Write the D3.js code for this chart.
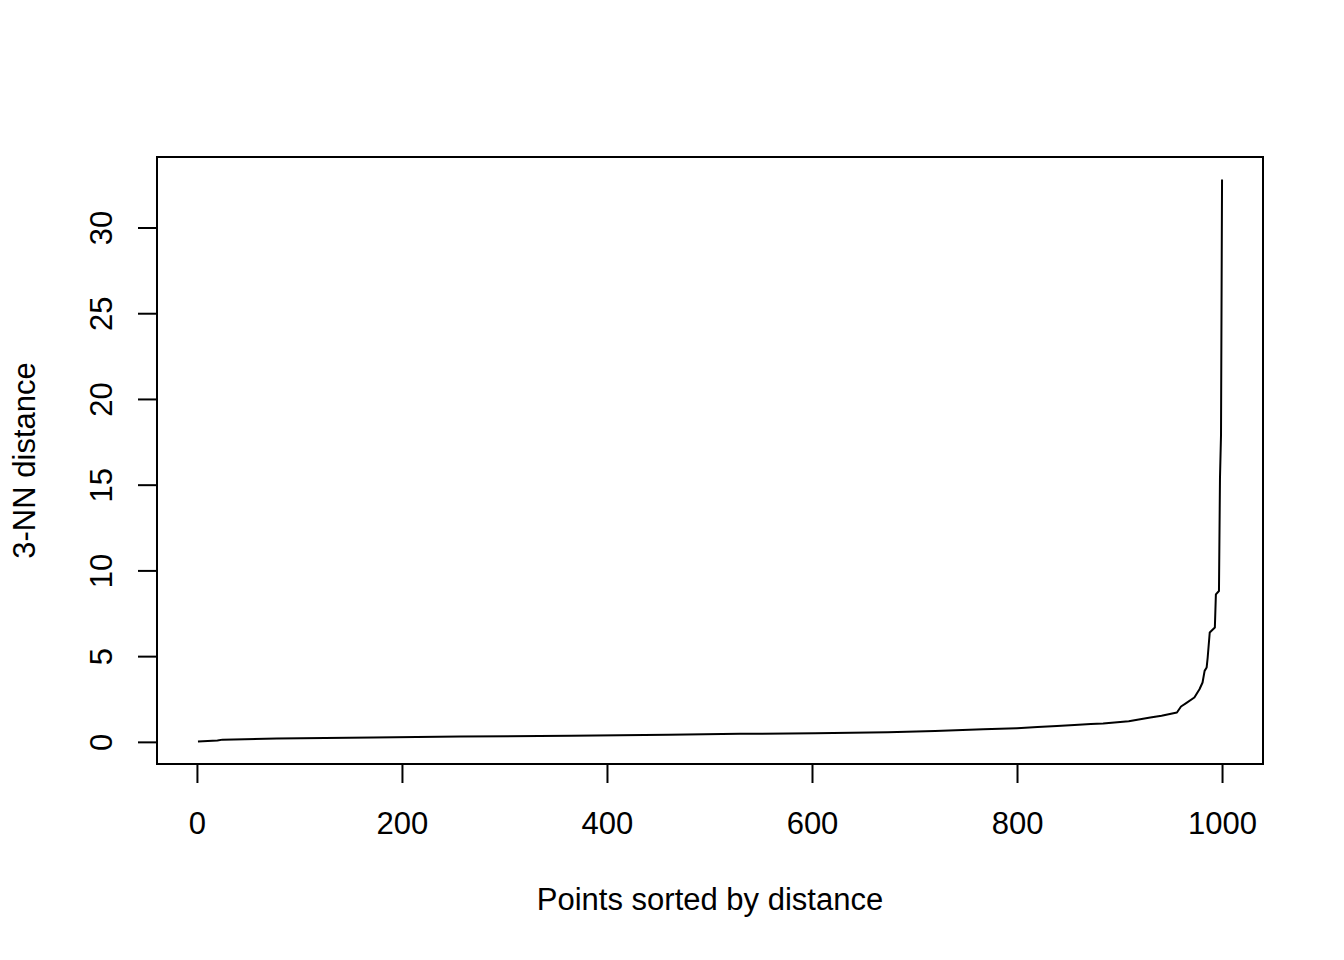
<!DOCTYPE html>
<html>
<head>
<meta charset="utf-8">
<script src="https://cdn.jsdelivr.net/npm/d3@7"></script>
<style>
  html, body { margin: 0; padding: 0; background: #fff; }
  svg text { font-family: "Liberation Sans", Arial, sans-serif; fill: #000; }
</style>
</head>
<body>
<svg id="chart" width="1344" height="960"></svg>
<script>
// Points (rank index) and their 3-NN distance
const pointIndex = [1, 20, 25, 78, 172, 257, 365, 460, 530, 603, 674, 720, 767, 800, 820, 839, 856, 872, 884, 909, 930, 941, 956, 960, 965, 973, 978, 981, 983, 985, 986, 988, 993, 994, 997, 998, 999, 1000];
const knnDist   = [0.02, 0.08, 0.13, 0.19, 0.25, 0.31, 0.36, 0.42, 0.47, 0.50, 0.56, 0.64, 0.74, 0.80, 0.86, 0.92, 0.98, 1.04, 1.07, 1.20, 1.42, 1.52, 1.71, 2.06, 2.26, 2.59, 3.07, 3.46, 4.14, 4.34, 4.92, 6.38, 6.67, 8.60, 8.80, 15.4, 17.9, 32.8];
const xTicks = [0, 200, 400, 600, 800, 1000];
const yTicks = [0, 5, 10, 15, 20, 25, 30];
const xLabel = "Points sorted by distance";
const yLabel = "3-NN distance";

const svg = d3.select("#chart");
const box = { left: 157, right: 1263, top: 157, bottom: 764 };
const fs = 31;

// R-style 4% extended ranges
const xmin = 1, xmax = 1000;
const ymin = d3.min(knnDist), ymax = d3.max(knnDist);
const xr = xmax - xmin, yr = ymax - ymin;
const x = d3.scaleLinear().domain([xmin - 0.04 * xr, xmax + 0.04 * xr]).range([box.left, box.right]);
const y = d3.scaleLinear().domain([ymin - 0.04 * yr, ymax + 0.04 * yr]).range([box.bottom, box.top]);

const data = pointIndex.map((v, i) => ({ x: v, y: knnDist[i] }));

// curve
svg.append("path")
  .datum(data)
  .attr("fill", "none")
  .attr("stroke", "#000")
  .attr("stroke-width", 2)
  .attr("stroke-linejoin", "round")
  .attr("d", d3.line().x(d => x(d.x)).y(d => y(d.y)));

// box
svg.append("rect")
  .attr("x", box.left).attr("y", box.top)
  .attr("width", box.right - box.left).attr("height", box.bottom - box.top)
  .attr("fill", "none").attr("stroke", "#000").attr("stroke-width", 2);

// x axis
const xAxis = d3.axisBottom(x).tickValues(xTicks).tickSize(19).tickSizeOuter(0).tickPadding(0).tickFormat(d3.format("d"));
const gx = svg.append("g").attr("transform", `translate(0,${box.bottom})`).call(xAxis);
gx.select(".domain")
  .attr("d", `M${x(xTicks[0])},0H${x(xTicks[xTicks.length - 1])}`)
  .attr("stroke-width", 2);
gx.selectAll(".tick line").attr("stroke-width", 2);
gx.selectAll(".tick text")
  .attr("y", 70).attr("dy", null)
  .style("font-size", fs + "px")
  .style("font-family", '"Liberation Sans", Arial, sans-serif');

// y axis
const yAxis = d3.axisLeft(y).tickValues(yTicks).tickSize(19).tickSizeOuter(0).tickPadding(0).tickFormat(d3.format("d"));
const gy = svg.append("g").attr("transform", `translate(${box.left},0)`).call(yAxis);
gy.select(".domain")
  .attr("d", `M0,${y(yTicks[0])}V${y(yTicks[yTicks.length - 1])}`)
  .attr("stroke-width", 2);
gy.selectAll(".tick line").attr("stroke-width", 2);
gy.selectAll(".tick text")
  .attr("x", null).attr("dy", null)
  .attr("text-anchor", "middle")
  .attr("transform", `translate(${112 - box.left},0) rotate(-90)`)
  .style("font-size", fs + "px")
  .style("font-family", '"Liberation Sans", Arial, sans-serif');

// axis titles
svg.append("text")
  .attr("x", (box.left + box.right) / 2).attr("y", 910)
  .attr("text-anchor", "middle")
  .style("font-size", fs + "px")
  .text(xLabel);

svg.append("text")
  .attr("transform", `translate(35,${(box.top + box.bottom) / 2}) rotate(-90)`)
  .attr("text-anchor", "middle")
  .style("font-size", fs + "px")
  .text(yLabel);
</script>
</body>
</html>
